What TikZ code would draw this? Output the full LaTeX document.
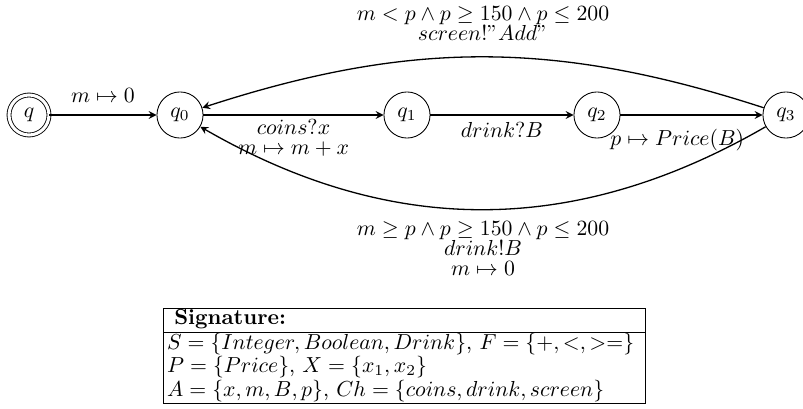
\documentclass[tikz,border=0pt]{standalone}
\usepackage{amsmath}
\usetikzlibrary{arrows}

\begin{document}
\begin{tikzpicture}[x=0.46pt, y=0.46pt, >=stealth,
			state/.style={draw, circle, minimum size=21.2pt, inner sep=0pt},
			accepting/.style={minimum size=18.4pt, double, double distance=1.4pt},
			trans/.style={semithick, black, ->},
			lbl/.style={align=center, font=\fontsize{10}{9.2}\selectfont}
			]
			\useasboundingbox (0,0) rectangle (803,-409);
			
			\node [state, accepting](q) at (29,-115) {$q$};
			\node [state](q0) at (180,-115) {$q_0$};
			\node [state](q1) at (407,-115) {$q_1$};
			\node [state](q2) at (597,-115) {$q_2$};
			\node [state](q3) at (786,-115) {$q_3$};
			
			\draw[trans] (q) -- (q0) node[midway, above=2pt] {$m \mapsto 0$};
			\draw[trans] (q0) -- (q1) node[midway, below=-1.5pt, lbl] {$coins?x$\\$m \mapsto m+x$};
			\draw[trans] (q1) -- (q2) node[midway, below] {$drink?B$};
			\draw[trans] (q2) -- (q3) node[pos=0.4, below=3pt] {$p \mapsto Price(B)$};
			
			\draw[trans] (q3) to[bend right=18] node[midway, above=4pt, lbl] {$m < p \wedge p \geq 150 \wedge p \leq 200$\\$screen!"Add"$} (q0);
			\draw[trans] (q3) to[bend left=30] node[midway, below=2pt, lbl] {$m \geq p \wedge p \geq 150 \wedge p \leq 200$\\$drink!B$\\$m \mapsto 0$} (q0);
			
			% signature of the automaton
			\node [draw, inner sep=0pt, anchor=north west](sig) at (163,-308) {\renewcommand{\arraystretch}{0.9}%
				\begin{tabular}{@{\,}l@{\hspace{5pt}}}
					\ \textbf{Signature:}\\ \hline
					$S=\{Integer, Boolean, Drink\}$, $F=\{+,<,>=\}$\\
					$P=\{Price\}$, $X=\{x_1,x_2\}$\\
					$A=\{x,m,B,p\}$, $Ch=\{coins,drink,screen\}$
				\end{tabular}};
		\end{tikzpicture}
\end{document}
